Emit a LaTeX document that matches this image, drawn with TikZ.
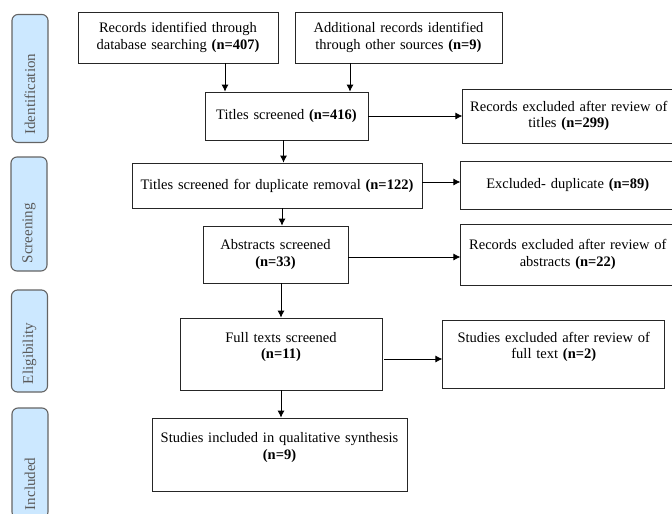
\documentclass[tikz,border=0pt]{standalone}
\usepackage{fontspec}
\setmainfont{Liberation Serif}
\usetikzlibrary{arrows.meta,positioning}
\definecolor{phasefill}{RGB}{204,232,255}
\definecolor{phaseline}{RGB}{100,100,100}
\definecolor{phasetext}{RGB}{90,90,90}

\begin{document}
\begin{tikzpicture}[x=1pt, y=-1pt, ->, >={Latex[length=7pt,width=7pt]}, line width=0.8pt,
    box/.style={draw=black!85, rectangle, align=center, inner xsep=0pt, inner ysep=2pt,
        font=\fontsize{14.5}{16.5}\selectfont},
    toptext/.style={text depth=34pt},
    phase/.style={draw=phaseline, fill=phasefill, rounded corners=6pt, rotate=90,
        minimum height=36pt, inner xsep=8pt, align=left, text=phasetext, line width=1.1pt,
        font=\fontsize{15}{17}\selectfont}]

    \useasboundingbox (0,0) rectangle (672,514);

    % Phase labels on the left
    \node (idPhase) [phase, text width=112pt] at (30,78.5) {Identification};
    \node (scrPhase) [phase, text width=98pt] at (29,214) {Screening};
    \node (eligPhase) [phase, text width=86pt] at (29.5,341) {Eligibility};
    \node (inclPhase) [phase, text width=94pt] at (30,463) {Included};

    % Define nodes
    \node (dbRecords) [box, text width=200pt, minimum height=51pt] at (178,37.5)
        {Records identified through\\database searching \textbf{(n=407)}};
    \node (otherRecords) [box, text width=207pt, minimum height=51pt] at (398.5,37.5)
        {Additional records identified\\through other sources \textbf{(n=9)}};
    \node (titleScreen) [box, text width=163pt, minimum height=48pt] at (286.5,116)
        {Titles screened \textbf{(n=416)}};
    \node (titleExcl) [box, text width=212pt, minimum height=54pt, right=94pt of titleScreen]
        {Records excluded after review of\\titles \textbf{(n=299)}};
    \node (dupScreen) [box, text width=290pt, minimum height=45pt] at (277,185.5)
        {Titles screened for duplicate removal \textbf{(n=122)}};
    \node (dupExcl) [box, text width=214pt, minimum height=48pt, right=38pt of dupScreen]
        {Excluded- duplicate \textbf{(n=89)}};
    \node (absScreen) [box, text width=145pt, minimum height=57pt] at (275.5,254.5)
        {Abstracts screened\\\textbf{(n=33)}};
    \node (absExcl) [box, text width=214pt, minimum height=61pt, right=112pt of absScreen]
        {Records excluded after review of\\abstracts \textbf{(n=22)}};
    \node (fullScreen) [box, toptext, text width=202pt, minimum height=72pt] at (281,354)
        {Full texts screened\\\textbf{(n=11)}};
    \node (fullExcl) [box, toptext, text width=222pt, minimum height=68pt, right=60pt of fullScreen]
        {Studies excluded after review of\\full text \textbf{(n=2)}};
    \node (included) [box, toptext, text width=255pt, minimum height=73pt] at (279.5,454.5)
        {Studies included in qualitative synthesis\\\textbf{(n=9)}};

    % Arrows down the main column
    \draw ([xshift=47pt]dbRecords.south) -- ([xshift=47pt]dbRecords.south |- titleScreen.north);
    \draw ([xshift=-48.5pt]otherRecords.south) -- ([xshift=-48.5pt]otherRecords.south |- titleScreen.north);
    \draw ([xshift=-3pt]titleScreen.south) -- ([xshift=-3pt]titleScreen.south |- dupScreen.north);
    \draw ([xshift=5pt]dupScreen.south) -- ([xshift=5pt]dupScreen.south |- absScreen.north);
    \draw (fullScreen.north |- absScreen.south) -- (fullScreen.north);
    \draw (fullScreen.south) -- (fullScreen.south |- included.north);

    % Exclusions to the right
    \draw (titleScreen.east) -- (titleExcl.west);
    \draw ([yshift=3.5pt]dupScreen.east) -- ([yshift=3.5pt]dupExcl.west);
    \draw ([yshift=-2.5pt]absScreen.east) -- ([yshift=-2.5pt]absExcl.west);
    \draw ([xshift=2pt,yshift=-5pt]fullScreen.east) -- ([yshift=-5pt]fullExcl.west);

\end{tikzpicture}
\end{document}
